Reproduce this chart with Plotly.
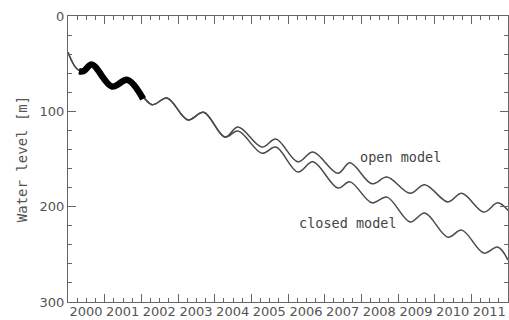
import plotly.graph_objects as go

# ---- data ----
model_t = [2000.0, 2000.3, 2000.65, 2001.2, 2001.62, 2002.29, 2002.7, 2003.27, 2003.7, 2004.28,
           2004.64, 2005.29, 2005.67, 2006.27, 2006.68, 2007.36, 2007.69, 2008.29, 2008.7,
           2009.33, 2009.73, 2010.36, 2010.74, 2011.34, 2011.72, 2012.0]
open_model = [38, 57, 51, 74, 67, 93, 86, 109, 101, 127,
              116.5, 137.5, 129, 153, 142.7, 165, 154, 176, 169,
              186, 177, 195, 186, 205.7, 196, 204]
closed_model = [38, 57, 51, 74, 67, 93, 86, 109, 101, 127,
                120.7, 144, 137.5, 163.7, 153, 180.5, 174, 196, 190,
                216, 206.7, 232, 224.6, 248.7, 242.4, 256]
obs_t = [2000.3, 2000.42, 2000.65, 2001.2, 2001.62, 2002.05]
observed = [58, 58, 51, 74, 67, 87]

year_ticks = list(range(2000, 2012))
year_labels = [str(y) for y in year_ticks]
y_ticks = [0, 100, 200, 300]

axis_col = "#666666"
text_col = "#555555"
line_col = "#4a4a4a"

fig = go.Figure()
fig.add_trace(go.Scatter(x=model_t, y=open_model, mode="lines",
                         line=dict(color=line_col, width=1.5, shape="spline", smoothing=1.0),
                         showlegend=False))
fig.add_trace(go.Scatter(x=model_t, y=closed_model, mode="lines",
                         line=dict(color=line_col, width=1.5, shape="spline", smoothing=1.0),
                         showlegend=False))
fig.add_trace(go.Scatter(x=obs_t, y=observed, mode="lines",
                         line=dict(color="#000000", width=6.5, shape="spline", smoothing=1.0),
                         showlegend=False))

fig.add_annotation(x=2009.06, y=148, text="open model", showarrow=False,
                   font=dict(family="DejaVu Sans Mono", size=13.5, color="#444444"))
fig.add_annotation(x=2007.63, y=217, text="closed model", showarrow=False,
                   font=dict(family="DejaVu Sans Mono", size=13.5, color="#444444"))

fig.update_layout(
    width=509, height=320,
    margin=dict(l=68, r=1, t=16, b=18),
    paper_bgcolor="white", plot_bgcolor="white",
    xaxis=dict(range=[2000, 2012], tickmode="array", tickvals=year_ticks, ticktext=year_labels,
               ticks="inside", ticklen=8, tickcolor=axis_col, tickwidth=1, tickangle=0,
               showline=True, linecolor=axis_col, linewidth=1, mirror="allticks",
               showgrid=False, zeroline=False, ticklabelshift=18, ticklabelstandoff=-3,
               automargin=False,
               tickfont=dict(family="DejaVu Sans", size=13, color=text_col),
               minor=dict(tickmode="linear", tick0=2000, dtick=0.25, ticks="inside",
                          ticklen=4, tickcolor=axis_col, showgrid=False)),
    yaxis=dict(range=[300, 0], tickmode="array", tickvals=y_ticks,
               ticks="inside", ticklen=8, tickcolor=axis_col, tickwidth=1,
               showline=True, linecolor=axis_col, linewidth=1, mirror="allticks",
               showgrid=False, zeroline=False, automargin=False,
               tickfont=dict(family="DejaVu Sans", size=13, color=text_col),
               title=dict(text="Water level [m]", standoff=8,
                          font=dict(family="DejaVu Sans Mono", size=14, color=text_col)),
               minor=dict(tickmode="linear", tick0=0, dtick=20, ticks="inside",
                          ticklen=4, tickcolor=axis_col, showgrid=False)),
)

fig.write_html("out.html", config={"displayModeBar": False},
               post_script="document.body.style.margin='0';document.body.style.overflow='hidden';")
